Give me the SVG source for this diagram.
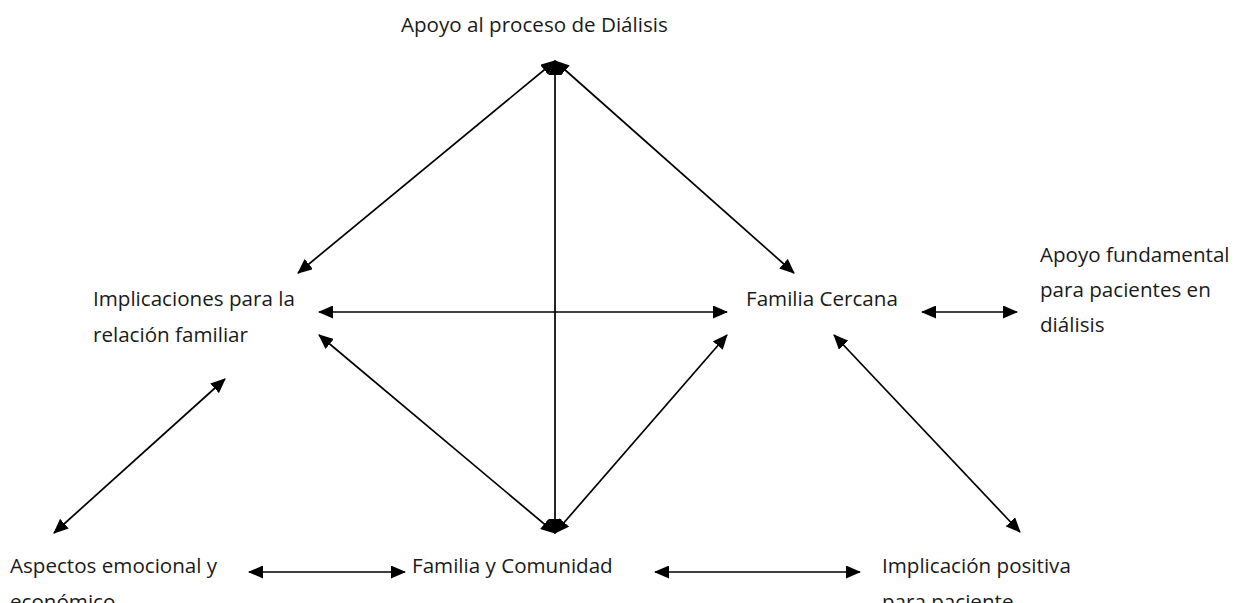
<svg xmlns="http://www.w3.org/2000/svg" width="1236" height="603" viewBox="0 0 1236 603">
<defs>
<style>
.t{font-family:"Open Sans","Liberation Sans",sans-serif;font-size:20.6px;fill:#1a1a1a}
.c{stroke:#000;stroke-width:1.7;fill:none;marker-start:url(#a);marker-end:url(#a)}
</style>
<marker id="a" viewBox="0 0 15 13" refX="14" refY="6.5" markerWidth="15" markerHeight="13" markerUnits="userSpaceOnUse" orient="auto-start-reverse">
<path d="M0,0 L15,6.5 L0,13 Z" fill="#000"/>
</marker>
</defs>
<rect width="1236" height="603" fill="#fff"/>
<g id="connectors">
<line class="c" x1="298" y1="273" x2="555" y2="61"/>
<line class="c" x1="794" y1="273" x2="555" y2="61"/>
<line class="c" x1="555" y1="61" x2="555" y2="533"/>
<line class="c" x1="319" y1="312" x2="727" y2="312"/>
<line class="c" x1="319" y1="335" x2="555" y2="533"/>
<line class="c" x1="727" y1="335" x2="555" y2="533"/>
<line class="c" x1="225" y1="379" x2="54" y2="533"/>
<line class="c" x1="834" y1="335" x2="1020" y2="532"/>
<line class="c" x1="922" y1="312" x2="1017" y2="312"/>
<line class="c" x1="249" y1="572" x2="405" y2="572"/>
<line class="c" x1="655" y1="572" x2="860" y2="572"/>
</g>
<g id="n-dialisis"><text class="t" x="401" y="32">Apoyo al proceso de Diálisis</text></g>
<g id="n-implicaciones"><text class="t" x="93" y="306">Implicaciones para la</text><text class="t" x="93" y="342">relación familiar</text></g>
<g id="n-cercana"><text class="t" x="746" y="306">Familia Cercana</text></g>
<g id="n-apoyo"><text class="t" x="1040" y="262">Apoyo fundamental</text><text class="t" x="1040" y="297">para pacientes en</text><text class="t" x="1040" y="332">diálisis</text></g>
<g id="n-aspectos"><text class="t" x="10" y="573">Aspectos emocional y</text><text class="t" x="10" y="609">económico</text></g>
<g id="n-comunidad"><text class="t" x="412" y="573">Familia y Comunidad</text></g>
<g id="n-positiva"><text class="t" x="882" y="573">Implicación positiva</text><text class="t" x="882" y="609">para paciente</text></g>
</svg>
